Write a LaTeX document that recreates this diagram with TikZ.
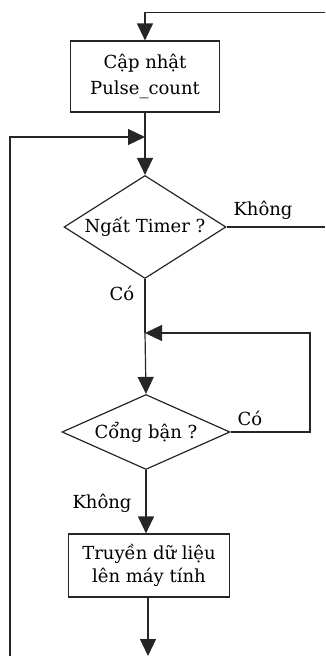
\documentclass[tikz,border=0pt]{standalone}
\usepackage{fontspec}
\setmainfont{DejaVu Serif}
\usetikzlibrary{shapes.geometric,arrows.meta}
\tikzset{
  flow/.style={line width=1.2pt, draw=black!85},
  arr/.style={flow, -{Triangle[width=16pt,length=17pt]}},
  procbox/.style={draw=black!85, line width=1.2pt, rectangle, inner sep=0pt, align=center, font=\fontsize{18}{26}\selectfont},
  decide/.style={draw=black!85, line width=1.2pt, diamond, inner sep=0pt, align=center, font=\fontsize{18}{20}\selectfont},
  lbl/.style={font=\fontsize{18}{20}\selectfont, inner sep=0pt}
}
\begin{document}
\begin{tikzpicture}[x=1pt,y=-1pt]
\useasboundingbox (0,0) rectangle (325,656);
\node[procbox, minimum width=149pt, minimum height=71pt] (box1) at (145,76.5) {Cập nhật\\Pulse\_count};
\node[decide, minimum width=162pt, minimum height=103pt, aspect=1.57] (d1) at (145,227) {Ngất Timer ?};
\node[decide, minimum width=168pt, minimum height=75pt, aspect=2.24] (d2) at (146,432) {Cổng bận ?};
\node[procbox, minimum width=161pt, minimum height=63pt, font=\fontsize{18}{23}\selectfont] (box2) at (149,565.5) {Truyền dữ liệu\\lên máy tính};

\coordinate (topr) at (325,12.5);
\coordinate (j1) at (145,137);
\coordinate (leftb) at (10,656);
\coordinate (d1r) at (325,227);
\coordinate (j2) at (145,333);
\coordinate (d2r) at (310,333);
\coordinate (bot) at (148,656);

% top return
\draw[arr] (topr) -- (topr -| box1.north) -- (box1.north);
% box1 to d1
\draw[flow] (box1.south) -- (j1);
\draw[arr] (j1) -- (d1.north);
% left loop
\draw[arr] (leftb) -- (leftb |- j1) -- (j1);
% d1 no
\draw[flow] (d1.east) -- (d1r);
\node[lbl] (lk1) at (263,210) {Không};
% d1 yes
\draw[flow] (d1.south) -- (j2);
\node[lbl] (lc1) at (122,293) {Có};
\draw[arr] (j2) -- (d2.north);
% d2 yes loop
\draw[arr] (d2.east) -- (d2.east -| d2r) -- (d2r) -- (j2);
\node[lbl] (lc2) at (250,418) {Có};
% d2 no
\draw[arr] (d2.south) -- (d2.south |- box2.north);
\node[lbl] (lk2) at (102,503) {Không};
% box2 out
\draw[arr] (box2.south -| bot) -- (bot);
\end{tikzpicture}
\end{document}
